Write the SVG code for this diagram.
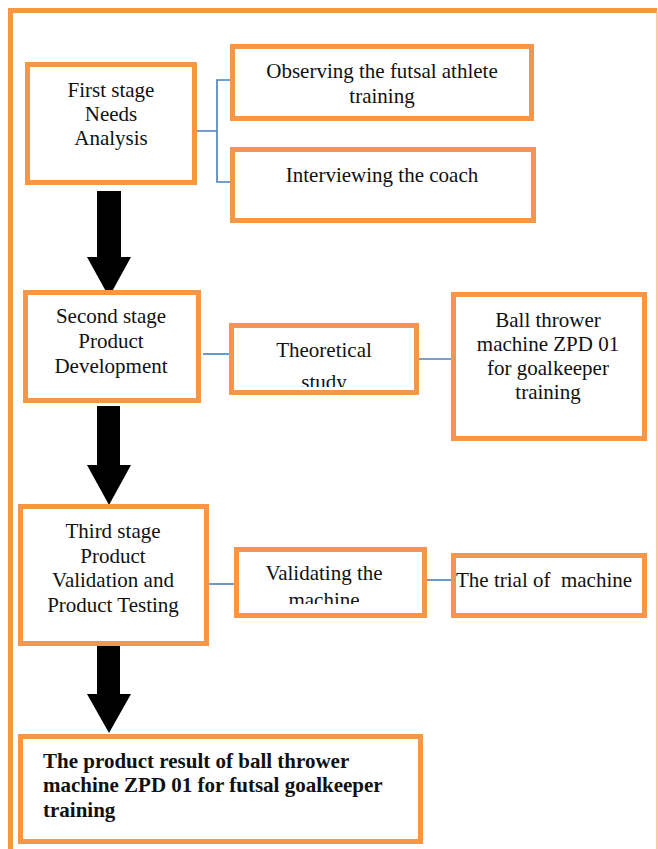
<svg xmlns="http://www.w3.org/2000/svg" width="658" height="849" viewBox="0 0 658 849">
<style>
.box{fill:#fff;stroke:#F79646;stroke-width:5}
.t{font-family:"Liberation Serif","Times New Roman",serif;font-size:21px;fill:#111;text-anchor:middle}
.b{font-family:"Liberation Serif","Times New Roman",serif;font-size:21px;font-weight:bold;fill:#111}
.ln{stroke:#4A7EBB;stroke-width:1.6;fill:none}
.ar{fill:#000}
</style>
<defs>
<clipPath id="c5"><rect x="233" y="326" width="183" height="61"/></clipPath>
<clipPath id="c8"><rect x="237" y="550" width="188" height="54"/></clipPath>
</defs>
<rect width="658" height="849" fill="#fff"/>
<g id="frame">
<path d="M10.5 849 V10.5 H657" fill="none" stroke="#F79646" stroke-width="5"/>
<line x1="657" y1="12" x2="657" y2="849" stroke="#F8B888" stroke-width="1.5"/>
</g>
<g id="connectors">
<path class="ln" d="M197 131 H217 M230 80 H217 V182 H230"/>
<line class="ln" x1="203" y1="354" x2="229" y2="354"/>
<line class="ln" x1="419" y1="359" x2="453" y2="359"/>
<line class="ln" x1="209" y1="584" x2="236" y2="584"/>
<line class="ln" x1="427" y1="580" x2="454" y2="580"/>
<polygon class="ar" points="97,191 121,191 121,257 131,257 109,297 87,257 97,257"/>
<polygon class="ar" points="97,406 120,406 120,465 131,465 109,505 87,465 97,465"/>
<polygon class="ar" points="97,644 120,644 120,694 131,694 109,733 87,694 97,694"/>
</g>
<g id="n1">
<rect class="box" x="27.5" y="64.5" width="167" height="118"/>
<text class="t" x="111" y="97">First stage</text>
<text class="t" x="111" y="121">Needs</text>
<text class="t" x="111" y="145">Analysis</text>
</g>
<g id="n2">
<rect class="box" x="232.5" y="46.5" width="299" height="72"/>
<text class="t" x="382" y="78">Observing the futsal athlete</text>
<text class="t" x="382" y="103">training</text>
</g>
<g id="n3">
<rect class="box" x="232.5" y="149.5" width="301" height="71"/>
<text class="t" x="382" y="182">Interviewing the coach</text>
</g>
<g id="n4">
<rect class="box" x="25.5" y="292.5" width="173" height="108"/>
<text class="t" x="111" y="323">Second stage</text>
<text class="t" x="111" y="348">Product</text>
<text class="t" x="111" y="373">Development</text>
</g>
<g id="n5">
<rect class="box" x="231.5" y="325.5" width="185" height="67"/>
<g clip-path="url(#c5)">
<text class="t" x="324" y="357">Theoretical</text>
<text class="t" x="324" y="389">study</text>
</g>
</g>
<g id="n6">
<rect class="box" x="453.5" y="294.5" width="191" height="144"/>
<text class="t" x="548" y="327">Ball thrower</text>
<text class="t" x="548" y="351">machine ZPD 01</text>
<text class="t" x="548" y="375">for goalkeeper</text>
<text class="t" x="548" y="399">training</text>
</g>
<g id="n7">
<rect class="box" x="20.5" y="506.5" width="186" height="137"/>
<text class="t" x="113" y="538">Third stage</text>
<text class="t" x="113" y="563">Product</text>
<text class="t" x="113" y="587">Validation and</text>
<text class="t" x="113" y="612">Product Testing</text>
</g>
<g id="n8">
<rect class="box" x="236.5" y="549.5" width="188" height="66"/>
<g clip-path="url(#c8)">
<text class="t" x="324" y="580">Validating the</text>
<text class="t" x="324" y="607">machine</text>
</g>
</g>
<g id="n9">
<rect class="box" x="453.5" y="555.5" width="191" height="60"/>
<text class="t" x="456" y="587" style="text-anchor:start" xml:space="preserve">The trial of  machine</text>
</g>
<g id="n10">
<rect class="box" x="20.5" y="736.5" width="400" height="105"/>
<text class="b" x="43" y="768">The product result of ball thrower</text>
<text class="b" x="43" y="792">machine ZPD 01 for futsal goalkeeper</text>
<text class="b" x="43" y="817">training</text>
</g>
</svg>
